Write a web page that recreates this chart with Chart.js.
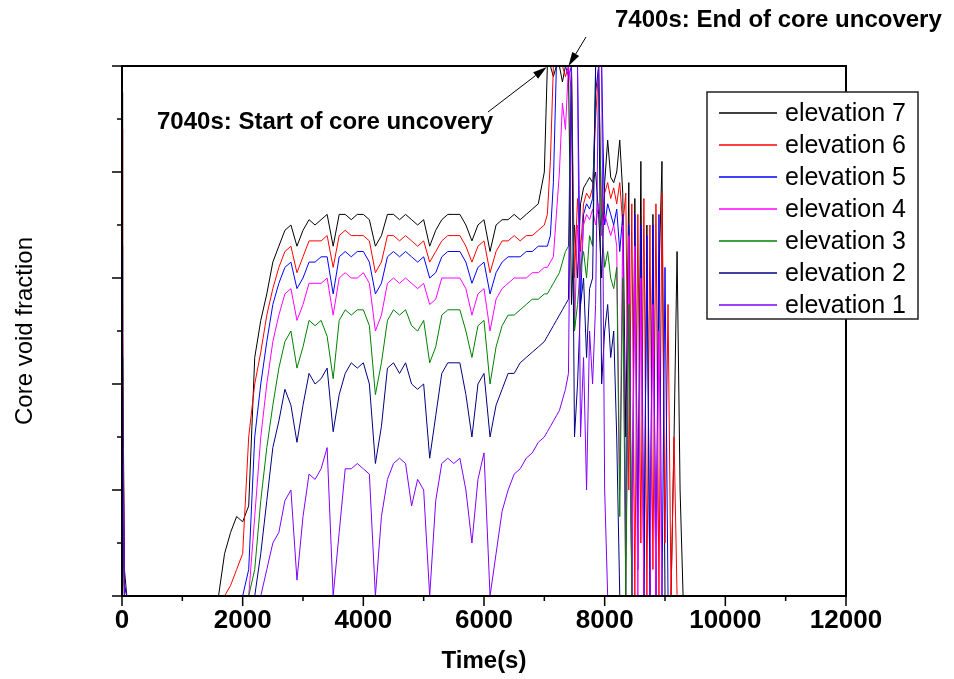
<!DOCTYPE html>
<html>
<head>
<meta charset="utf-8">
<script src="https://cdn.jsdelivr.net/npm/chart.js@4.4.0/dist/chart.umd.min.js"></script>
<style>
	body { margin: 0; background: #fff; }
	canvas { display: block; }
</style>
</head>
<body>
<canvas id="chart" width="954" height="679"></canvas>
<script>
// Time grid (s): a few points for the start-up spike, 100 s steps to 7000 s, then 50 s steps
const times = [0, 10, 40, 80,
	1500, 1600, 1700, 1800, 1900, 2000, 2100, 2200, 2300, 2400,
	2500, 2600, 2700, 2800, 2900, 3000, 3100, 3200, 3300, 3400,
	3500, 3600, 3700, 3800, 3900, 4000, 4100, 4200, 4300, 4400,
	4500, 4600, 4700, 4800, 4900, 5000, 5100, 5200, 5300, 5400,
	5500, 5600, 5700, 5800, 5900, 6000, 6100, 6200, 6300, 6400,
	6500, 6600, 6700, 6800, 6900, 7000,
	7050, 7100, 7150, 7200, 7250, 7300, 7350, 7400, 7450, 7500,
	7550, 7600, 7650, 7700, 7750, 7800, 7850, 7900, 7950, 8000,
	8050, 8100, 8150, 8200, 8250, 8300, 8350, 8400, 8450, 8500,
	8550, 8600, 8650, 8700, 8750, 8800, 8850, 8900, 8950, 9000,
	9050, 9100, 9150, 9200, 9250, 9300, 9350, 9400];

const elevation7 = [0.95, 0.50, 0.05, 0,
	0, 0, 0.08, 0.12, 0.15, 0.14, 0.17, 0.45, 0.52, 0.57,
	0.63, 0.66, 0.69, 0.70, 0.66, 0.69, 0.71, 0.70, 0.71, 0.72,
	0.66, 0.72, 0.72, 0.71, 0.72, 0.72, 0.71, 0.66, 0.68, 0.72,
	0.72, 0.71, 0.72, 0.71, 0.70, 0.71, 0.66, 0.69, 0.71, 0.72,
	0.72, 0.72, 0.70, 0.67, 0.70, 0.71, 0.65, 0.70, 0.71, 0.71,
	0.72, 0.71, 0.72, 0.73, 0.74, 0.80,
	1, 1, 0.98, 1, 1, 0.97, 1, 1, 0.55, 0.70,
	0.60, 0.74, 0.77, 0.78, 0.79, 0.78, 0.80, 0.72, 0.60, 0.78,
	0.86, 0.79, 0.78, 0.80, 0.86, 0.76, 0.30, 0.78, 0, 0.75,
	0.10, 0.82, 0, 0.70, 0, 0.72, 0, 0.60, 0.82, 0,
	0, 0, 0.30, 0.65, 0.20, 0, 0, 0];

const elevation6 = [0.88, 0.45, 0.02, 0,
	0, 0, 0, 0.02, 0.05, 0.08, 0.30, 0.40, 0.46, 0.53,
	0.58, 0.62, 0.65, 0.66, 0.61, 0.64, 0.67, 0.67, 0.67, 0.68,
	0.62, 0.68, 0.69, 0.68, 0.68, 0.68, 0.67, 0.61, 0.63, 0.68,
	0.68, 0.67, 0.68, 0.67, 0.66, 0.67, 0.63, 0.65, 0.67, 0.68,
	0.68, 0.68, 0.66, 0.63, 0.66, 0.67, 0.61, 0.65, 0.67, 0.67,
	0.68, 0.67, 0.68, 0.68, 0.69, 0.70,
	0.72, 0.82, 1, 1, 1, 1, 0.98, 1, 1, 0.60,
	0.75, 0.65, 0.74, 0.76, 0.75, 0.77, 0.90, 1, 0.70, 0.76,
	0.78, 0.75, 0.77, 0.74, 0.78, 0.70, 0.76, 0.20, 0.74, 0,
	0.72, 0.10, 0.75, 0, 0.70, 0.05, 0.74, 0, 0.76, 0.10,
	0.55, 0, 0.30, 0, 0, 0, 0, 0];

const elevation5 = [0.66, 0.40, 0.02, 0,
	0, 0, 0, 0, 0, 0, 0.05, 0.30, 0.40, 0.48,
	0.55, 0.59, 0.62, 0.63, 0.58, 0.60, 0.63, 0.63, 0.64, 0.64,
	0.57, 0.64, 0.65, 0.64, 0.65, 0.65, 0.63, 0.57, 0.59, 0.64,
	0.65, 0.64, 0.65, 0.64, 0.63, 0.64, 0.60, 0.61, 0.64, 0.65,
	0.65, 0.65, 0.63, 0.59, 0.62, 0.63, 0.57, 0.61, 0.63, 0.64,
	0.64, 0.64, 0.65, 0.65, 0.66, 0.66,
	0.66, 0.68, 0.78, 1, 1, 1, 1, 0.98, 1, 1,
	1, 0.55, 0.72, 0.74, 0.73, 0.75, 0.95, 1, 1, 0.70,
	0.74, 0.72, 0.70, 0.73, 0.65, 0.72, 0.10, 0.70, 0, 0.72,
	0.05, 0.70, 0, 0.68, 0, 0.70, 0, 0.72, 0, 0.62,
	0, 0, 0, 0, 0, 0, 0, 0];

const elevation4 = [0.52, 0.30, 0, 0,
	0, 0, 0, 0, 0, 0, 0, 0.15, 0.30, 0.40,
	0.48, 0.53, 0.57, 0.58, 0.52, 0.55, 0.59, 0.59, 0.59, 0.60,
	0.53, 0.60, 0.61, 0.60, 0.60, 0.61, 0.59, 0.50, 0.53, 0.59,
	0.60, 0.59, 0.60, 0.59, 0.58, 0.59, 0.55, 0.56, 0.60, 0.60,
	0.60, 0.60, 0.58, 0.53, 0.57, 0.58, 0.50, 0.56, 0.58, 0.59,
	0.60, 0.60, 0.60, 0.61, 0.61, 0.62,
	0.62, 0.63, 0.64, 0.72, 0.80, 0.93, 0.88, 1, 0.95, 0.50,
	0.70, 0.60, 0.70, 0.72, 0.71, 0.73, 0.70, 0.74, 0.68, 0.72,
	0.70, 0.68, 0.70, 0.66, 0.20, 0.70, 0, 0.68, 0, 0.66,
	0, 0.60, 0, 0, 0, 0.55, 0, 0.50, 0, 0,
	0, 0, 0, 0, 0, 0, 0, 0];

const elevation3 = [0.45, 0.25, 0, 0,
	0, 0, 0, 0, 0, 0, 0, 0.05, 0.18, 0.28,
	0.36, 0.43, 0.48, 0.50, 0.43, 0.47, 0.52, 0.51, 0.52, 0.49,
	0.41, 0.52, 0.54, 0.53, 0.54, 0.54, 0.51, 0.38, 0.44, 0.52,
	0.54, 0.53, 0.54, 0.51, 0.50, 0.52, 0.44, 0.47, 0.53, 0.54,
	0.54, 0.54, 0.50, 0.45, 0.51, 0.52, 0.40, 0.47, 0.51, 0.53,
	0.53, 0.54, 0.55, 0.56, 0.56, 0.57,
	0.57, 0.58, 0.59, 0.60, 0.61, 0.63, 0.65, 0.66, 1, 0.50,
	0.55, 0.62, 0.65, 0.60, 0.68, 0.66, 1, 1, 0.70, 0.62,
	0.65, 0.60, 0.58, 0.62, 0.15, 0.60, 0, 0.55, 0, 0,
	0, 0, 0, 0, 0, 0, 0, 0, 0, 0,
	0, 0, 0, 0, 0, 0, 0, 0];

const elevation2 = [0.45, 0.28, 0, 0,
	0, 0, 0, 0, 0, 0, 0, 0, 0.08, 0.18,
	0.28, 0.33, 0.39, 0.36, 0.29, 0.36, 0.42, 0.40, 0.41, 0.43,
	0.31, 0.38, 0.42, 0.44, 0.43, 0.44, 0.40, 0.25, 0.32, 0.43,
	0.44, 0.42, 0.44, 0.40, 0.39, 0.40, 0.26, 0.34, 0.42, 0.44,
	0.44, 0.44, 0.38, 0.30, 0.40, 0.42, 0.30, 0.36, 0.39, 0.42,
	0.42, 0.44, 0.45, 0.46, 0.47, 0.48,
	0.49, 0.50, 0.51, 0.52, 0.53, 0.54, 0.55, 0.56, 1, 0.30,
	0.40, 0.55, 0.60, 0.45, 0.58, 0.60, 1, 1, 0.40, 0.50,
	0.55, 0.45, 0.50, 0.30, 0, 0, 0, 0, 0, 0,
	0, 0, 0, 0, 0, 0, 0, 0, 0, 0,
	0, 0, 0, 0, 0, 0, 0, 0];

const elevation1 = [0.38, 0.30, 0, 0,
	0, 0, 0, 0, 0, 0, 0, 0, 0, 0.05,
	0.10, 0.12, 0.18, 0.20, 0.03, 0.15, 0.23, 0.22, 0.24, 0.28,
	0, 0.12, 0.24, 0.24, 0.25, 0.24, 0.23, 0, 0.15, 0.22,
	0.25, 0.26, 0.25, 0.17, 0.22, 0.20, 0, 0.18, 0.25, 0.26,
	0.25, 0.26, 0.20, 0.10, 0.22, 0.27, 0, 0.08, 0.16, 0.20,
	0.23, 0.24, 0.26, 0.27, 0.29, 0.30,
	0.31, 0.32, 0.33, 0.34, 0.35, 0.37, 0.39, 0.42, 1, 1,
	1, 0.30, 0.45, 0.20, 0.50, 0.40, 0.55, 1, 1, 0.20,
	0, 0, 0, 0, 0, 0, 0, 0, 0, 0,
	0, 0, 0, 0, 0, 0, 0, 0, 0, 0,
	0, 0, 0, 0, 0, 0, 0, 0];

const seriesNames = ["elevation 7", "elevation 6", "elevation 5", "elevation 4", "elevation 3", "elevation 2", "elevation 1"];
const seriesValues = [elevation7, elevation6, elevation5, elevation4, elevation3, elevation2, elevation1];
const seriesColours = ["#000000", "#ff0000", "#0000ff", "#ff00ff", "#008000", "#000080", "#8000ff"];

// annotated instants (s)
const eventTimes = [7040, 7400];
const eventLabels = ["7040s: Start of core uncovery", "7400s: End of core uncovery"];

const FONT = 'Arial, "Liberation Sans", sans-serif';

function drawArrow(ctx, x0, y0, x1, y1){
	const ang = Math.atan2(y1 - y0, x1 - x0);
	const len = 14, half = 4;
	const bx = x1 - len * Math.cos(ang), by = y1 - len * Math.sin(ang);
	ctx.lineWidth = 1;
	ctx.beginPath();
	ctx.moveTo(x0, y0);
	ctx.lineTo(bx, by);
	ctx.stroke();
	ctx.beginPath();
	ctx.moveTo(x1, y1);
	ctx.lineTo(bx + half * Math.sin(ang), by - half * Math.cos(ang));
	ctx.lineTo(bx - half * Math.sin(ang), by + half * Math.cos(ang));
	ctx.closePath();
	ctx.fill();
}

// frame + inward/outward tick marks, drawn over the lines
const framePlugin = {
	id: "frame",
	afterDatasetsDraw(chart){
		const ctx = chart.ctx, a = chart.chartArea;
		const xs = chart.scales.x, ys = chart.scales.y;
		ctx.save();
		ctx.strokeStyle = "#000";
		ctx.lineWidth = 2;
		ctx.strokeRect(a.left, a.top, a.right - a.left, a.bottom - a.top);
		ctx.lineWidth = 1.5;
		ctx.beginPath();
		xs.ticks.forEach(t => {
			const px = xs.getPixelForValue(t.value);
			const len = Math.round(t.value / 1000) % 2 === 0 ? 10 : 5;
			ctx.moveTo(px, a.bottom);
			ctx.lineTo(px, a.bottom + len);
		});
		ys.ticks.forEach(t => {
			const py = ys.getPixelForValue(t.value);
			const len = Math.round(t.value * 10) % 2 === 0 ? 10 : 5;
			ctx.moveTo(a.left, py);
			ctx.lineTo(a.left - len, py);
		});
		ctx.stroke();
		ctx.restore();
	}
};

const legendPlugin = {
	id: "boxLegend",
	afterDraw(chart){
		const ctx = chart.ctx;
		const left = 707, top = 92, w = 211, h = 227;
		ctx.save();
		ctx.fillStyle = "#fff";
		ctx.fillRect(left, top, w, h);
		ctx.strokeStyle = "#222";
		ctx.lineWidth = 1.5;
		ctx.strokeRect(left, top, w, h);
		ctx.font = "25px " + FONT;
		ctx.textBaseline = "middle";
		ctx.textAlign = "left";
		chart.data.datasets.forEach((ds, i) => {
			const y = top + 21 + i * 32;
			ctx.strokeStyle = ds.borderColor;
			ctx.lineWidth = 1.5;
			ctx.beginPath();
			ctx.moveTo(719, y);
			ctx.lineTo(777, y);
			ctx.stroke();
			ctx.fillStyle = "#000";
			ctx.fillText(ds.label, 785, y + 1);
		});
		ctx.restore();
	}
};

const notesPlugin = {
	id: "notes",
	afterDraw(chart){
		const ctx = chart.ctx, xs = chart.scales.x, ys = chart.scales.y;
		const top = ys.getPixelForValue(1);
		ctx.save();
		ctx.fillStyle = "#000";
		ctx.strokeStyle = "#000";
		ctx.font = "bold 24px " + FONT;
		ctx.textBaseline = "middle";
		ctx.textAlign = "left";
		ctx.fillText(eventLabels[0], 157, 122);
		ctx.fillText(eventLabels[1], 615, 20);
		drawArrow(ctx, 488, 112, xs.getPixelForValue(eventTimes[0]), top + 1);
		drawArrow(ctx, 586, 37, xs.getPixelForValue(eventTimes[1]), top);
		ctx.restore();
	}
};

new Chart(document.querySelector("#chart"), {
	type: "line",
	data: {
		datasets: seriesNames.map((name, i) => ({
			label: name,
			data: times.map((t, j) => ({x: t, y: seriesValues[i][j]})),
			borderColor: seriesColours[i],
			borderWidth: 1,
			pointRadius: 0,
			tension: 0,
			order: 7 - i,
		})),
	},
	options: {
		responsive: false,
		animation: false,
		events: [],
		layout: {padding: {left: 0, top: 66, right: 108, bottom: 0}},
		plugins: {legend: {display: false}, tooltip: {enabled: false}},
		scales: {
			x: {
				type: "linear",
				min: 0,
				max: 12000,
				afterFit: scale => { scale.height = 83; },
				grid: {display: false, drawTicks: false},
				border: {display: false},
				ticks: {
					stepSize: 1000,
					autoSkip: false,
					maxRotation: 0,
					padding: 9,
					color: "#000",
					font: {family: FONT, size: 26, weight: "bold"},
					callback: v => (v % 2000 === 0 ? String(v) : ""),
				},
				title: {
					display: true,
					text: "Time(s)",
					color: "#000",
					font: {family: FONT, size: 24, weight: "bold"},
					padding: {top: 0, bottom: 3},
				},
			},
			y: {
				min: 0,
				max: 1,
				afterFit: scale => { scale.width = 122; },
				grid: {display: false, drawTicks: false},
				border: {display: false},
				ticks: {stepSize: 0.1, display: false},
				title: {
					display: true,
					text: "Core void fraction",
					color: "#000",
					font: {family: FONT, size: 24},
					padding: {top: 11, bottom: 0},
				},
			},
		},
	},
	plugins: [framePlugin, legendPlugin, notesPlugin],
});
</script>
</body>
</html>
